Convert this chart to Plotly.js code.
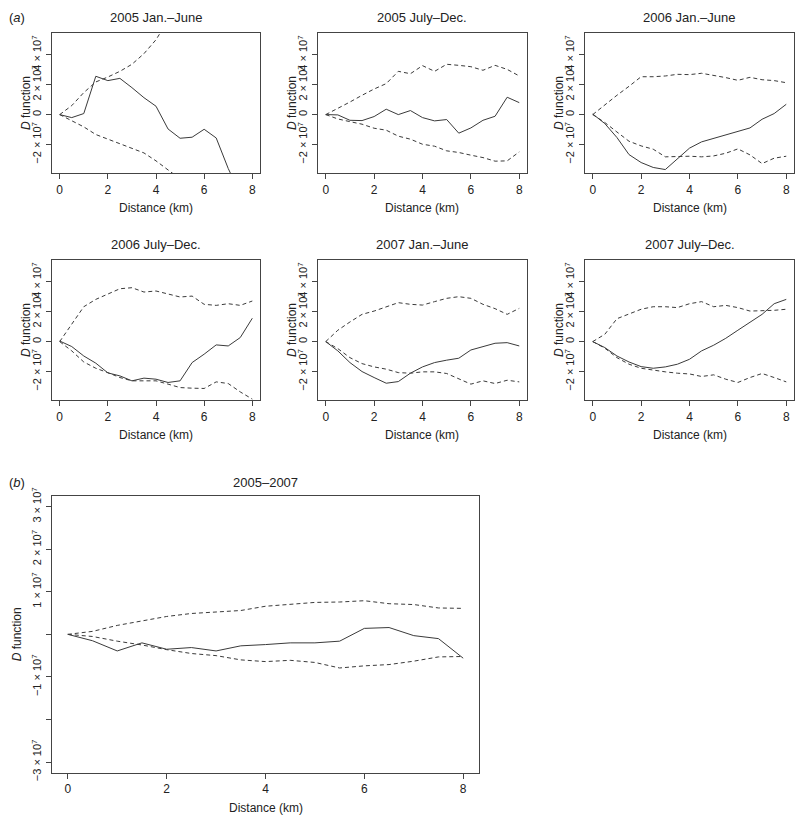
<!DOCTYPE html>
<html>
<head>
<meta charset="utf-8">
<script src="https://cdn.plot.ly/plotly-3.0.1.min.js"></script>
<style>html,body{margin:0;padding:0;background:#fff;}#chart{width:800px;height:819px;}</style>
</head>
<body>
<div id="chart"></div>
<script>
// Distance (km)
const distance = [0,0.5,1,1.5,2,2.5,3,3.5,4,4.5,5,5.5,6,6.5,7,7.5,8];

// Values in units of 10^7
const p2005a_obs   = [0,-0.2,0.07,2.56,2.27,2.42,1.8,1.13,0.56,-0.96,-1.58,-1.51,-0.98,-1.56,-3.6,-5.5,-7.0];
const p2005a_upper = [0,0.6,1.47,2.18,2.51,2.89,3.36,4.07,5.0,6.3,7.2,7.9,8.5,9.0,9.5,10.0,10.5];
const p2005a_lower = [0,-0.42,-0.82,-1.33,-1.64,-1.93,-2.24,-2.56,-3.09,-3.71,-4.4,-5.0,-5.5,-6.0,-6.5,-7.0,-7.5];

const p2005b_obs   = [0,-0.02,-0.38,-0.4,-0.13,0.36,0,0.27,-0.2,-0.42,-0.33,-1.24,-0.89,-0.38,-0.11,1.16,0.8];
const p2005b_upper = [0,0.4,0.84,1.29,1.71,2.07,2.89,2.73,3.27,2.89,3.36,3.29,3.2,2.96,3.29,3.02,2.58];
const p2005b_lower = [0,-0.29,-0.47,-0.64,-0.91,-1.04,-1.44,-1.64,-1.98,-2.11,-2.42,-2.53,-2.71,-2.87,-3.11,-3.09,-2.49];

const p2006a_obs   = [0.04,-0.6,-1.53,-2.67,-3.2,-3.53,-3.67,-2.96,-2.24,-1.82,-1.6,-1.36,-1.11,-0.89,-0.31,0.07,0.69];
const p2006a_upper = [0,0.67,1.29,1.89,2.53,2.53,2.58,2.69,2.67,2.76,2.62,2.47,2.29,2.49,2.33,2.27,2.13];
const p2006a_lower = [0,-0.53,-1.16,-1.78,-2.09,-2.31,-2.82,-2.78,-2.78,-2.82,-2.76,-2.58,-2.29,-2.69,-3.27,-2.91,-2.78];

const p2006b_obs   = [0.04,-0.33,-0.96,-1.44,-2.09,-2.29,-2.62,-2.44,-2.51,-2.73,-2.62,-1.4,-0.84,-0.22,-0.29,0.27,1.56];
const p2006b_upper = [0,1.16,2.33,2.82,3.2,3.53,3.6,3.31,3.38,3.16,2.98,3.04,2.49,2.42,2.53,2.42,2.71];
const p2006b_lower = [0,-0.62,-1.36,-1.78,-2.07,-2.4,-2.62,-2.62,-2.62,-2.84,-3.07,-3.11,-3.13,-2.69,-2.8,-3.36,-3.84];

const p2007a_obs   = [0,-0.62,-1.4,-2.0,-2.4,-2.78,-2.67,-2.11,-1.69,-1.4,-1.24,-1.11,-0.56,-0.36,-0.11,-0.07,-0.29];
const p2007a_upper = [0,0.76,1.31,1.82,2.04,2.33,2.6,2.49,2.44,2.67,2.89,3.0,2.89,2.49,2.2,1.82,2.22];
const p2007a_lower = [0,-0.47,-1.07,-1.47,-1.69,-1.84,-2.07,-2.11,-2.02,-2.02,-2.13,-2.51,-2.84,-2.62,-2.8,-2.58,-2.69];

const p2007b_obs   = [0,-0.4,-0.96,-1.36,-1.67,-1.78,-1.69,-1.51,-1.18,-0.62,-0.24,0.22,0.76,1.27,1.82,2.53,2.82];
const p2007b_upper = [0,0.49,1.53,1.87,2.16,2.33,2.33,2.27,2.53,2.67,2.33,2.42,2.27,2.04,2.04,2.09,2.16];
const p2007b_lower = [0,-0.44,-1.07,-1.51,-1.78,-1.91,-2.02,-2.11,-2.16,-2.33,-2.22,-2.51,-2.73,-2.4,-2.13,-2.4,-2.69];

const all_obs   = [0,-0.15,-0.39,-0.2,-0.35,-0.31,-0.39,-0.27,-0.24,-0.2,-0.2,-0.16,0.14,0.16,-0.03,-0.1,-0.56];
const all_upper = [0,0.07,0.21,0.31,0.42,0.49,0.52,0.56,0.66,0.71,0.75,0.76,0.79,0.72,0.7,0.62,0.61];
const all_lower = [0,-0.05,-0.16,-0.25,-0.36,-0.45,-0.5,-0.6,-0.64,-0.61,-0.66,-0.79,-0.74,-0.71,-0.63,-0.53,-0.52];

const panelTitles = ['2005 Jan.–June','2005 July–Dec.','2006 Jan.–June','2006 July–Dec.','2007 Jan.–June','2007 July–Dec.','2005–2007'];
const xTicks = [0,2,4,6,8];
const smallYTicks = [-2,0,2,4];
const smallYText = ['−2 × 10<sup>7</sup>','0','2 × 10<sup>7</sup>','4 × 10<sup>7</sup>'];
const bigYTicks = [-3,-2,-1,0,1,2,3];
const bigYText = ['−3 × 10<sup>7</sup>','','−1 × 10<sup>7</sup>','','1 × 10<sup>7</sup>','2 × 10<sup>7</sup>','3 × 10<sup>7</sup>'];

const panels = [
  [p2005a_obs,p2005a_upper,p2005a_lower],
  [p2005b_obs,p2005b_upper,p2005b_lower],
  [p2006a_obs,p2006a_upper,p2006a_lower],
  [p2006b_obs,p2006b_upper,p2006b_lower],
  [p2007a_obs,p2007a_upper,p2007a_lower],
  [p2007b_obs,p2007b_upper,p2007b_lower],
  [all_obs,all_upper,all_lower]
];

const W = 800, H = 819;
const FONT = 'Liberation Sans, Arial, Helvetica, sans-serif';
const INK = '#222';
// panel boxes in pixels [left, right, top, bottom]
const boxes = [
  [52,260,33,173],[318,527,33,173],[585,794,33,173],
  [52,260,260,400],[318,527,260,400],[585,794,260,400],
  [52,479,496,772.7]
];

const traces = [];
const layout = {
  width: W, height: H,
  margin: {l:0,r:0,t:0,b:0},
  paper_bgcolor: '#fff', plot_bgcolor: '#fff',
  showlegend: false,
  font: {family: FONT, color: INK, size: 12},
  annotations: []
};

function py(p){ return 1 - p/H; }

panels.forEach((series, i) => {
  const n = i + 1;
  const xa = n === 1 ? 'x' : 'x' + n;
  const ya = n === 1 ? 'y' : 'y' + n;
  const styles = [
    {color: '#3a3a3a', width: 1},
    {color: '#3a3a3a', width: 1, dash: '4px,3px'},
    {color: '#3a3a3a', width: 1, dash: '4px,3px'}
  ];
  series.forEach((vals, k) => {
    traces.push({
      x: distance, y: vals, xaxis: xa, yaxis: ya,
      type: 'scatter', mode: 'lines', line: styles[k],
      hoverinfo: 'skip', cliponaxis: true
    });
  });
  const b = boxes[i];
  const big = i === 6;
  const axisCommon = {
    showline: true, mirror: true, linecolor: '#444', linewidth: 1.2,
    showgrid: false, zeroline: false, ticks: 'outside', ticklen: 5,
    tickcolor: '#444', tickwidth: 1,
    tickfont: {family: FONT, size: 12, color: INK}
  };
  layout['xaxis' + (n === 1 ? '' : n)] = Object.assign({}, axisCommon, {
    domain: [b[0]/W, b[1]/W], anchor: ya,
    range: [-0.32, 8.32], tickmode: 'array', tickvals: xTicks
  });
  layout['yaxis' + (n === 1 ? '' : n)] = Object.assign({}, axisCommon, {
    domain: [py(b[3]), py(b[2])], anchor: xa,
    range: big ? [-3.25, 3.25] : [-3.9, 5.45],
    tickmode: 'array',
    tickvals: big ? bigYTicks : smallYTicks,
    ticktext: big ? bigYText : smallYText,
    tickangle: -90,
    tickfont: {family: FONT, size: 11, color: INK}
  });
  const cx = (b[0] + b[1]) / 2 / W;
  // panel title
  layout.annotations.push({
    text: panelTitles[i], xref: 'paper', yref: 'paper',
    x: cx, y: py(big ? 482 : b[2] - 16), xanchor: 'center', yanchor: 'middle',
    showarrow: false, font: {family: FONT, size: 13, color: INK}
  });
  // x axis title
  layout.annotations.push({
    text: 'Distance (km)', xref: 'paper', yref: 'paper',
    x: cx, y: py(b[3] + 35), xanchor: 'center', yanchor: 'middle',
    showarrow: false, font: {family: FONT, size: 12, color: INK}
  });
  // y axis title
  layout.annotations.push({
    text: '<i>D</i> function', xref: 'paper', yref: 'paper',
    x: (big ? 17 : b[0] - 26) / W, y: py((b[2] + b[3]) / 2),
    xanchor: 'center', yanchor: 'middle', textangle: -90,
    showarrow: false, font: {family: FONT, size: 12, color: INK}
  });
});

layout.annotations.push({
  text: '(<i>a</i>)', xref: 'paper', yref: 'paper', x: 7/W, y: py(17),
  xanchor: 'left', yanchor: 'middle', showarrow: false,
  font: {family: FONT, size: 13, color: INK}
});
layout.annotations.push({
  text: '(<i>b</i>)', xref: 'paper', yref: 'paper', x: 7/W, y: py(482),
  xanchor: 'left', yanchor: 'middle', showarrow: false,
  font: {family: FONT, size: 13, color: INK}
});

Plotly.newPlot('chart', traces, layout, {staticPlot: true, displayModeBar: false});
</script>
</body>
</html>
